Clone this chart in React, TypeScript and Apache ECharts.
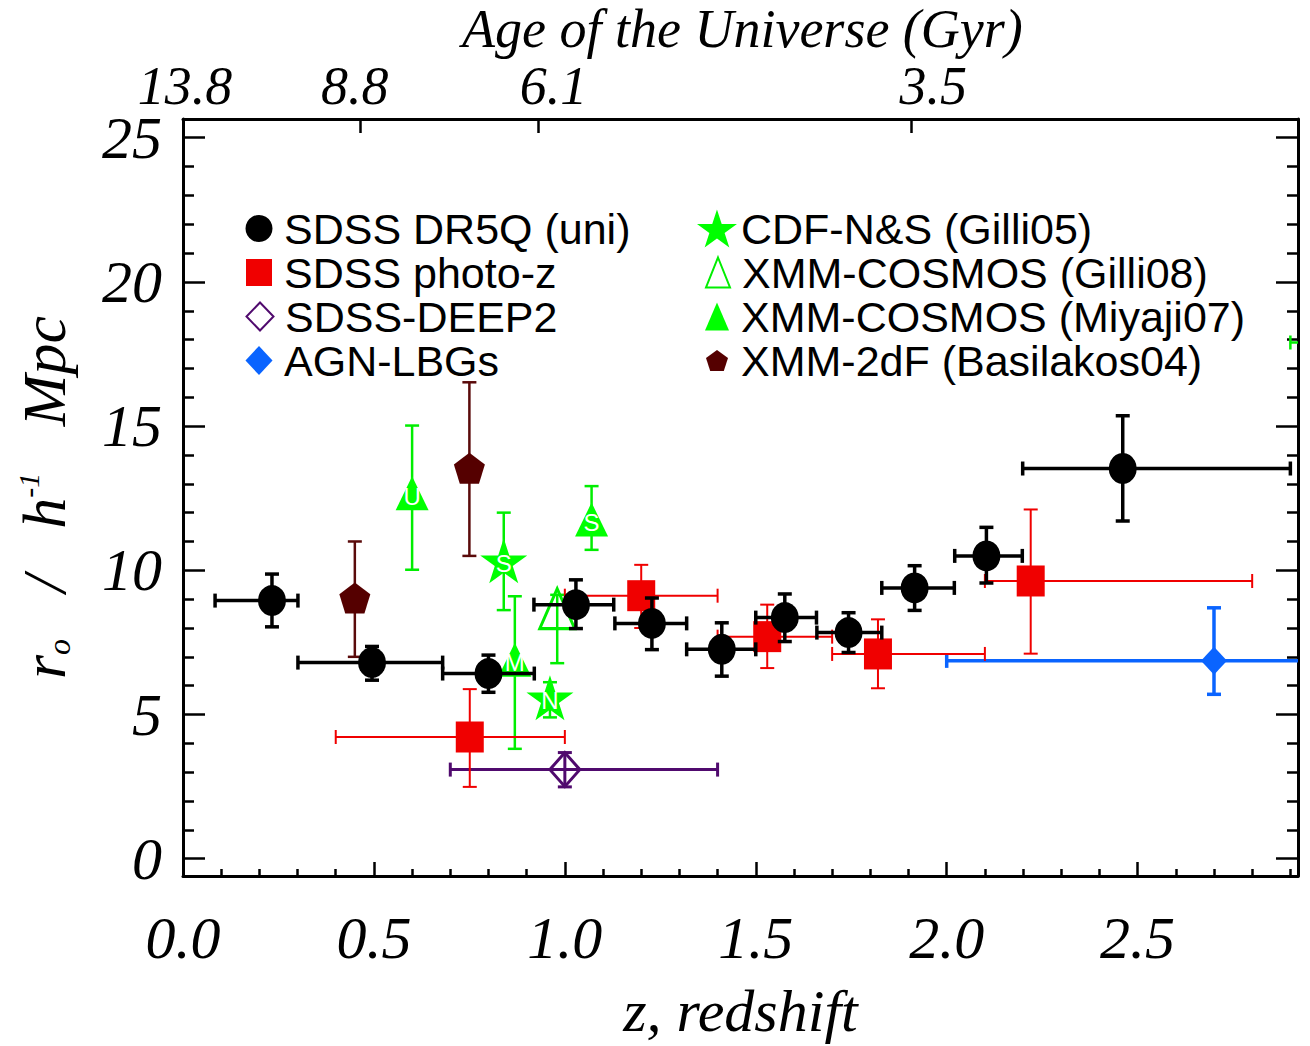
import React, { useEffect, useRef } from "react";
import * as echarts from "echarts";

// ---------- data ----------
// rows: [z, r0, zLow, zHigh, r0Low, r0High]
const dr5qRows = [
  [0.233, 8.95, 0.084, 0.301, 8.04, 9.87],
  [0.495, 6.8, 0.301, 0.68, 6.19, 7.36],
  [0.8, 6.42, 0.68, 0.92, 5.77, 7.06],
  [1.029, 8.81, 0.919, 1.128, 7.98, 9.67],
  [1.228, 8.16, 1.131, 1.319, 7.25, 9.04],
  [1.411, 7.26, 1.319, 1.5, 6.33, 8.18],
  [1.576, 8.36, 1.5, 1.659, 7.53, 9.18],
  [1.743, 7.84, 1.66, 1.83, 7.15, 8.53],
  [1.916, 9.39, 1.83, 2.02, 8.61, 10.16],
  [2.104, 10.5, 2.021, 2.198, 9.56, 11.49],
  [2.461, 13.53, 2.199, 2.9, 11.71, 15.36],
];
const photozRows = [
  [0.751, 4.22, 0.4, 1.0, 2.49, 5.88],
  [1.2, 9.12, 1.0, 1.4, 8.0, 10.19],
  [1.53, 7.7, 1.4, 1.7, 6.61, 8.81],
  [1.82, 7.1, 1.7, 2.1, 5.91, 8.3],
  [2.22, 9.63, 2.1, 2.8, 7.11, 12.11],
];
const deep2Rows = [[1.0, 3.09, 0.7, 1.4, 2.49, 3.68]];
const lbgRows = [[2.7, 6.86, 2.0, 3.4, 5.7, 8.7]];
const gilli05Rows = [
  [0.84, 10.33, 0.84, 0.84, 8.62, 12.0],
  [0.961, 5.58, 0.961, 0.961, 4.9, 6.12],
];
const gilli05Letters = ["S", "N"];
const gilli08Rows = [[0.98, 8.67, 0.98, 0.98, 6.78, 9.15]];
const miyajiRows = [
  [0.6, 12.67, 0.6, 0.6, 10.02, 15.02],
  [0.869, 6.9, 0.869, 0.869, 3.81, 9.1],
  [1.07, 11.76, 1.07, 1.07, 10.71, 12.92],
  [3.1, 17.9, 2.9, 3.3, 17.9, 17.9],
];
const miyajiLetters = ["U", "M", "S", ""];
const basilakosRows = [
  [0.45, 9.04, 0.45, 0.45, 7.0, 11.0],
  [0.75, 13.54, 0.75, 0.75, 10.5, 16.52],
];

const xMajor = [0, 0.5, 1.0, 1.5, 2.0, 2.5];
const xMinor = [0.1, 0.2, 0.3, 0.4, 0.6, 0.7, 0.8, 0.9, 1.1, 1.2, 1.3, 1.4, 1.6, 1.7, 1.8, 1.9, 2.1, 2.2, 2.3, 2.4, 2.6, 2.7, 2.8, 2.9];
const yMajor = [0, 5, 10, 15, 20, 25];
const yMinor = [1, 2, 3, 4, 6, 7, 8, 9, 11, 12, 13, 14, 16, 17, 18, 19, 21, 22, 23, 24];
const topTickZ = [0, 0.464, 0.93, 1.906];
const topLabelZ = [0.005, 0.45, 0.97, 1.965];
const topTickLabels = ["13.8", "8.8", "6.1", "3.5"];

// ---------- styling ----------
const SERIF = "Liberation Serif";
const SANS = "Liberation Sans";
const STAR = "path://M0,-1000 L225,-309 L951,-309 L363,118 L588,809 L0,382 L-588,809 L-363,118 L-951,-309 L-225,-309 Z";
const PENTA = "path://M0,-1000 L951,-309 L588,809 L-588,809 L-951,-309 Z";

const X_MIN = 0, X_MAX = 2.92, Y_MIN = -0.6, Y_MAX = 25.65;

function errSeries(rows: number[][], color: string, lw: number, cap: number, z: number) {
  return {
    type: "custom",
    z,
    clip: true,
    silent: true,
    data: rows,
    encode: { x: 0, y: 1 },
    renderItem: (params: any, api: any) => {
      const x = api.value(0), y = api.value(1);
      const xl = api.value(2), xh = api.value(3);
      const yl = api.value(4), yh = api.value(5);
      const style = { stroke: color, lineWidth: lw, fill: "none" };
      const children: any[] = [];
      if (xh > xl) {
        const a = api.coord([xl, y]);
        const b = api.coord([xh, y]);
        children.push({ type: "line", shape: { x1: a[0], y1: a[1], x2: b[0], y2: b[1] }, style });
        children.push({ type: "line", shape: { x1: a[0], y1: a[1] - cap, x2: a[0], y2: a[1] + cap }, style });
        children.push({ type: "line", shape: { x1: b[0], y1: b[1] - cap, x2: b[0], y2: b[1] + cap }, style });
      }
      if (yh > yl) {
        const a = api.coord([x, yl]);
        const b = api.coord([x, yh]);
        children.push({ type: "line", shape: { x1: a[0], y1: a[1], x2: b[0], y2: b[1] }, style });
        children.push({ type: "line", shape: { x1: a[0] - cap, y1: a[1], x2: a[0] + cap, y2: a[1] }, style });
        children.push({ type: "line", shape: { x1: b[0] - cap, y1: b[1], x2: b[0] + cap, y2: b[1] }, style });
      }
      return { type: "group", children };
    },
  };
}

function markSeries(name: string, rows: number[][], symbol: string, size: number[], itemStyle: any, z: number, letters?: string[]) {
  return {
    type: "scatter",
    name,
    z,
    clip: true,
    symbol,
    symbolSize: size,
    itemStyle: { opacity: 1, ...itemStyle },
    emphasis: { disabled: true },
    data: rows.map((r, i) => {
      const item: any = { value: [r[0], r[1]] };
      if (letters && letters[i]) {
        item.label = {
          show: true,
          formatter: letters[i],
          position: "inside",
          color: "#ffffff",
          fontFamily: SANS,
          fontSize: 24,
          offset: [0, 3],
        };
      }
      return item;
    }),
  };
}

function legendFor(name: string, cx: number, cy: number, w: number, h: number, textLeft: number) {
  const rowH = Math.max(h, 40);
  const left = cx - w / 2;
  const pad = textLeft - (left + w + 5);
  return {
    data: [name],
    left,
    top: cy - rowH / 2,
    orient: "vertical",
    padding: 0,
    itemGap: 0,
    itemWidth: w,
    itemHeight: h,
    selectedMode: false,
    itemStyle: { opacity: 1 },
    textStyle: { fontFamily: SANS, fontSize: 43, color: "#000", lineHeight: 40, padding: [0, 0, 0, pad] },
  };
}

export default function App() {
  const ref = useRef<HTMLDivElement>(null);
  useEffect(() => {
    if (!ref.current) return;
    const chart = echarts.init(ref.current, undefined, { renderer: "svg" });
    const axisLabelFont = { fontFamily: SERIF, fontStyle: "italic", fontSize: 60, color: "#000" };
    const lineSt = { color: "#000", width: 3 };
    const tickSt = { color: "#000", width: 2.5 };
    const option: any = {
      animation: false,
      backgroundColor: "#fff",
      title: {
        text: "Age of the Universe (Gyr)",
        left: 462,
        top: 2,
        padding: 0,
        textStyle: { fontFamily: SERIF, fontStyle: "italic", fontWeight: "normal", fontSize: 54, lineHeight: 54, color: "#000" },
      },
      grid: { left: 183, right: 12, top: 119, bottom: 166, containLabel: false },
      xAxis: [
        {
          type: "value", position: "bottom", min: X_MIN, max: X_MAX,
          axisLine: { show: true, onZero: false, lineStyle: lineSt },
          axisTick: { show: true, inside: true, length: 14, lineStyle: tickSt, customValues: xMajor },
          axisLabel: { ...axisLabelFont, margin: 32, customValues: xMajor, formatter: (v: number) => v.toFixed(1) },
          splitLine: { show: false },
          name: "z, redshift", nameLocation: "middle", nameGap: 105,
          nameTextStyle: { fontFamily: SERIF, fontStyle: "italic", fontSize: 60, color: "#000" },
        },
        {
          type: "value", position: "bottom", min: X_MIN, max: X_MAX,
          axisLine: { show: false, onZero: false },
          axisTick: { show: true, inside: true, length: 7, lineStyle: tickSt, customValues: xMinor },
          axisLabel: { show: false },
          splitLine: { show: false },
        },
        {
          type: "value", position: "top", min: X_MIN, max: X_MAX,
          axisLine: { show: true, onZero: false, lineStyle: lineSt },
          axisTick: { show: true, inside: true, length: 14, lineStyle: tickSt, customValues: topTickZ },
          axisLabel: { show: false },
          splitLine: { show: false },
        },
        {
          type: "value", position: "top", min: X_MIN, max: X_MAX,
          axisLine: { show: false, onZero: false },
          axisTick: { show: false },
          axisLabel: {
            ...axisLabelFont, fontSize: 54, lineHeight: 44, margin: 11, customValues: topLabelZ,
            formatter: (v: number) => {
              const i = topLabelZ.findIndex((t) => Math.abs(t - v) < 1e-6);
              return i >= 0 ? topTickLabels[i] : "";
            },
          },
          splitLine: { show: false },
        },
      ],
      yAxis: [
        {
          type: "value", position: "left", min: Y_MIN, max: Y_MAX,
          axisLine: { show: true, onZero: false, lineStyle: lineSt },
          axisTick: { show: true, inside: true, length: 22, lineStyle: tickSt, customValues: yMajor },
          axisLabel: { ...axisLabelFont, margin: 21, customValues: yMajor },
          splitLine: { show: false },
          name: "{t|r}{sub|o}{t|   /   h}{sup|-1}{t|   Mpc}",
          nameLocation: "middle", nameGap: 108, nameRotate: 90,
          nameTextStyle: {
            rich: {
              t: { fontFamily: SERIF, fontStyle: "italic", fontSize: 62, color: "#000", lineHeight: 62, verticalAlign: "middle" },
              sub: { fontFamily: SERIF, fontStyle: "italic", fontSize: 32, color: "#000", lineHeight: 30, verticalAlign: "bottom" },
              sup: { fontFamily: SERIF, fontStyle: "italic", fontSize: 30, color: "#000", lineHeight: 30, verticalAlign: "top" },
            },
          },
        },
        {
          type: "value", position: "left", min: Y_MIN, max: Y_MAX,
          axisLine: { show: false, onZero: false },
          axisTick: { show: true, inside: true, length: 11, lineStyle: tickSt, customValues: yMinor },
          axisLabel: { show: false },
          splitLine: { show: false },
        },
        {
          type: "value", position: "right", min: Y_MIN, max: Y_MAX,
          axisLine: { show: true, onZero: false, lineStyle: lineSt },
          axisTick: { show: true, inside: true, length: 22, lineStyle: tickSt, customValues: yMajor },
          axisLabel: { show: false },
          splitLine: { show: false },
        },
        {
          type: "value", position: "right", min: Y_MIN, max: Y_MAX,
          axisLine: { show: false, onZero: false },
          axisTick: { show: true, inside: true, length: 11, lineStyle: tickSt, customValues: yMinor },
          axisLabel: { show: false },
          splitLine: { show: false },
        },
      ],
      legend: [
        legendFor("SDSS DR5Q (uni)", 259, 227, 27, 29, 284),
        legendFor("SDSS photo-z", 259, 271, 26, 27, 284),
        legendFor("SDSS-DEEP2", 259, 315, 27, 28, 284),
        legendFor("AGN-LBGs", 259, 359, 27, 29, 284),
        legendFor("CDF-N&S (Gilli05)", 717, 227, 40, 38, 741),
        legendFor("XMM-COSMOS (Gilli08)", 717, 271, 24, 30, 741),
        legendFor("XMM-COSMOS (Miyaji07)", 717, 315, 24, 28, 741),
        legendFor("XMM-2dF (Basilakos04)", 717, 359, 22, 22, 741),
      ],
      series: [
        errSeries(basilakosRows, "#5a0a0a", 2.5, 7, 2),
        errSeries(miyajiRows, "#00ee00", 2.5, 7, 2),
        errSeries(gilli05Rows, "#00ee00", 2.5, 7, 2),
        errSeries(gilli08Rows, "#00ee00", 2.5, 7, 2),
        errSeries(deep2Rows, "#500a6e", 3, 7, 2),
        errSeries(lbgRows, "#0a64ff", 3.5, 7, 2),
        markSeries("XMM-2dF (Basilakos04)", basilakosRows, PENTA, [31, 31], { color: "#550000" }, 3),
        markSeries("XMM-COSMOS (Miyaji07)", miyajiRows, "triangle", [33, 34], { color: "#00ff00" }, 3, miyajiLetters),
        markSeries("CDF-N&S (Gilli05)", gilli05Rows, STAR, [47, 45], { color: "#00ff00" }, 3, gilli05Letters),
        markSeries("XMM-COSMOS (Gilli08)", gilli08Rows, "triangle", [35, 40], { color: "rgba(0,0,0,0)", borderColor: "#00ee00", borderWidth: 3 }, 3),
        markSeries("SDSS-DEEP2", deep2Rows, "diamond", [30, 34], { color: "rgba(0,0,0,0)", borderColor: "#500a6e", borderWidth: 3 }, 3),
        markSeries("AGN-LBGs", lbgRows, "diamond", [26, 28], { color: "#0a64ff" }, 3),
        errSeries(photozRows, "#f00000", 2, 7, 4),
        markSeries("SDSS photo-z", photozRows, "rect", [28, 31], { color: "#f00000" }, 5),
        errSeries(dr5qRows, "#000000", 3.5, 7, 6),
        markSeries("SDSS DR5Q (uni)", dr5qRows, "circle", [28, 31], { color: "#000000" }, 7),
      ],
    };
    chart.setOption(option);
    return () => chart.dispose();
  }, []);
  return (
    <div
      ref={ref}
      style={{ position: "absolute", left: 0, top: 0, width: 1310, height: 1046, background: "#fff" }}
    />
  );
}
